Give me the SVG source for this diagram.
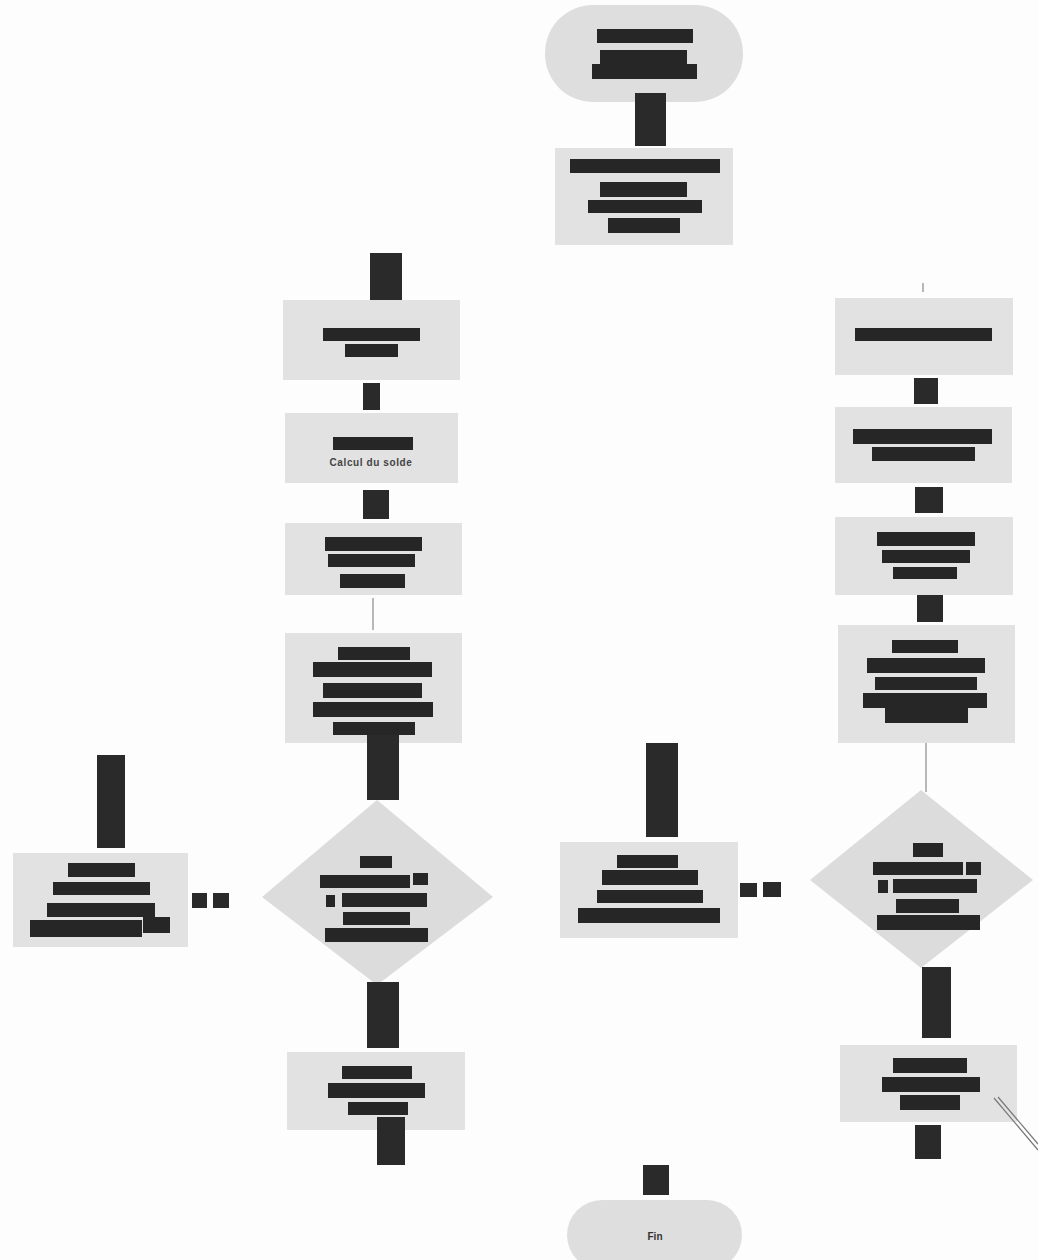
<svg xmlns="http://www.w3.org/2000/svg" width="1038" height="1260" viewBox="0 0 1038 1260">
<style>
.bg{fill:#fdfdfd}
.box{fill:#e2e2e2}
.term{fill:#dedede}
.dia{fill:#dcdcdc}
.bar{fill:#262626}
.blk{fill:#2a2a2a}
.ln{stroke:#8a8a8a;stroke-width:1.2;fill:none}
.lbl{font-family:"Liberation Sans",Arial,sans-serif;font-size:10px;font-weight:bold;fill:#333}
.faint{font-family:"Liberation Sans",Arial,sans-serif;font-size:10px;font-weight:bold;fill:#444;letter-spacing:0.6px}
</style>
<rect class="bg" x="0" y="0" width="1038" height="1260"/>

<g id="start">
  <rect class="term" x="545" y="5" width="198" height="97" rx="48"/>
  <rect class="bar" x="597" y="29" width="96" height="14"/>
  <rect class="bar" x="600" y="50" width="87" height="15"/>
  <rect class="bar" x="592" y="64" width="105" height="15"/>
</g>

<g id="box-top">
  <rect class="box" x="555" y="148" width="178" height="97"/>
  <rect class="bar" x="570" y="159" width="150" height="14"/>
  <rect class="bar" x="600" y="182" width="87" height="15"/>
  <rect class="bar" x="588" y="200" width="114" height="13"/>
  <rect class="bar" x="608" y="218" width="72" height="15"/>
</g>

<g id="left-1">
  <rect class="box" x="283" y="300" width="177" height="80"/>
  <rect class="bar" x="323" y="328" width="97" height="13"/>
  <rect class="bar" x="345" y="344" width="53" height="13"/>
</g>

<g id="left-2">
  <rect class="box" x="285" y="413" width="173" height="70"/>
  <rect class="bar" x="333" y="437" width="80" height="13"/>
  <text class="faint" x="371" y="466" text-anchor="middle">Calcul du solde</text>
</g>

<g id="left-3">
  <rect class="box" x="285" y="523" width="177" height="72"/>
  <rect class="bar" x="325" y="537" width="97" height="14"/>
  <rect class="bar" x="328" y="554" width="87" height="13"/>
  <rect class="bar" x="340" y="574" width="65" height="14"/>
</g>

<g id="left-4">
  <rect class="box" x="285" y="633" width="177" height="110"/>
  <rect class="bar" x="338" y="647" width="72" height="13"/>
  <rect class="bar" x="313" y="662" width="119" height="15"/>
  <rect class="bar" x="323" y="683" width="99" height="15"/>
  <rect class="bar" x="313" y="702" width="120" height="15"/>
  <rect class="bar" x="333" y="722" width="82" height="13"/>
</g>

<g id="left-decision">
  <polygon class="dia" points="377,800 493,897 377,985 262,897"/>
  <rect class="bar" x="360" y="856" width="32" height="12"/>
  <rect class="bar" x="320" y="875" width="90" height="13"/>
  <rect class="bar" x="413" y="873" width="15" height="12"/>
  <rect class="bar" x="326" y="895" width="9" height="12"/>
  <rect class="bar" x="342" y="893" width="85" height="14"/>
  <rect class="bar" x="343" y="912" width="67" height="13"/>
  <rect class="bar" x="325" y="928" width="103" height="14"/>
</g>

<g id="left-side">
  <rect class="box" x="13" y="853" width="175" height="94"/>
  <rect class="bar" x="68" y="863" width="67" height="14"/>
  <rect class="bar" x="53" y="882" width="97" height="13"/>
  <rect class="bar" x="47" y="903" width="108" height="14"/>
  <rect class="bar" x="30" y="920" width="112" height="17"/>
  <rect class="bar" x="143" y="917" width="27" height="16"/>
</g>

<g id="left-5">
  <rect class="box" x="287" y="1052" width="178" height="78"/>
  <rect class="bar" x="342" y="1066" width="70" height="13"/>
  <rect class="bar" x="328" y="1083" width="97" height="15"/>
  <rect class="bar" x="348" y="1102" width="60" height="13"/>
</g>

<g id="middle-side">
  <rect class="box" x="560" y="842" width="178" height="96"/>
  <rect class="bar" x="617" y="855" width="61" height="13"/>
  <rect class="bar" x="602" y="870" width="96" height="15"/>
  <rect class="bar" x="597" y="890" width="106" height="13"/>
  <rect class="bar" x="578" y="908" width="142" height="15"/>
</g>

<g id="right-1">
  <rect class="box" x="835" y="298" width="178" height="77"/>
  <rect class="bar" x="855" y="328" width="137" height="13"/>
</g>

<g id="right-2">
  <rect class="box" x="835" y="407" width="177" height="76"/>
  <rect class="bar" x="853" y="429" width="139" height="15"/>
  <rect class="bar" x="872" y="447" width="103" height="14"/>
</g>

<g id="right-3">
  <rect class="box" x="835" y="517" width="178" height="78"/>
  <rect class="bar" x="877" y="532" width="98" height="14"/>
  <rect class="bar" x="882" y="550" width="88" height="13"/>
  <rect class="bar" x="893" y="567" width="64" height="12"/>
</g>

<g id="right-4">
  <rect class="box" x="838" y="625" width="177" height="118"/>
  <rect class="bar" x="892" y="640" width="66" height="13"/>
  <rect class="bar" x="867" y="658" width="118" height="15"/>
  <rect class="bar" x="875" y="677" width="102" height="13"/>
  <rect class="bar" x="863" y="693" width="124" height="15"/>
  <rect class="bar" x="885" y="708" width="83" height="15"/>
</g>

<g id="right-decision">
  <polygon class="dia" points="921,790 1033,880 921,968 810,880"/>
  <rect class="bar" x="913" y="843" width="30" height="14"/>
  <rect class="bar" x="873" y="862" width="90" height="13"/>
  <rect class="bar" x="966" y="862" width="15" height="13"/>
  <rect class="bar" x="878" y="880" width="10" height="13"/>
  <rect class="bar" x="893" y="879" width="84" height="14"/>
  <rect class="bar" x="896" y="899" width="63" height="14"/>
  <rect class="bar" x="877" y="915" width="103" height="15"/>
</g>

<g id="right-5">
  <rect class="box" x="840" y="1045" width="177" height="77"/>
  <rect class="bar" x="893" y="1058" width="74" height="15"/>
  <rect class="bar" x="882" y="1077" width="98" height="15"/>
  <rect class="bar" x="900" y="1095" width="60" height="15"/>
</g>

<g id="end">
  <rect class="term" x="567" y="1200" width="175" height="70" rx="35"/>
  <text class="lbl" x="655" y="1240" text-anchor="middle">Fin</text>
</g>

<g id="connectors">
  <rect class="blk" x="635" y="93" width="31" height="53"/>
  <rect class="blk" x="370" y="253" width="32" height="47"/>
  <rect class="blk" x="363" y="383" width="17" height="27"/>
  <rect class="blk" x="363" y="490" width="26" height="29"/>
  <line class="ln" x1="373" y1="598" x2="373" y2="630"/>
  <rect class="blk" x="367" y="735" width="32" height="65"/>
  <rect class="blk" x="367" y="982" width="32" height="66"/>
  <rect class="blk" x="377" y="1117" width="28" height="48"/>
  <rect class="blk" x="97" y="755" width="28" height="93"/>
  <rect class="blk" x="192" y="893" width="15" height="15"/>
  <rect class="blk" x="213" y="893" width="16" height="15"/>
  <rect class="blk" x="646" y="743" width="32" height="94"/>
  <rect class="blk" x="740" y="883" width="17" height="14"/>
  <rect class="blk" x="763" y="882" width="18" height="15"/>
  <line class="ln" x1="923" y1="283" x2="923" y2="292"/>
  <rect class="blk" x="914" y="378" width="24" height="26"/>
  <rect class="blk" x="915" y="487" width="28" height="26"/>
  <rect class="blk" x="917" y="595" width="26" height="27"/>
  <line class="ln" x1="926" y1="743" x2="926" y2="792"/>
  <rect class="blk" x="922" y="967" width="29" height="71"/>
  <rect class="blk" x="915" y="1125" width="26" height="34"/>
  <rect class="blk" x="643" y="1165" width="26" height="30"/>
  <line x1="994" y1="1098" x2="1038" y2="1150" stroke="#777" stroke-width="1.2"/>
  <line x1="998" y1="1097" x2="1038" y2="1144" stroke="#777" stroke-width="1.2"/>
</g>
</svg>
